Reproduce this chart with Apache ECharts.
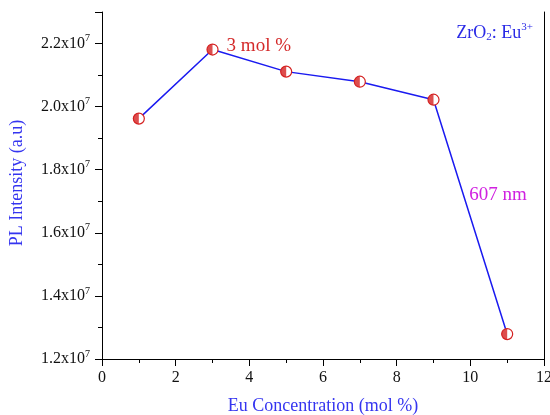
<!DOCTYPE html>
<html><head><meta charset="utf-8">
<script src="https://cdn.jsdelivr.net/npm/echarts@6/dist/echarts.min.js"></script>
<style>html,body{margin:0;padding:0;background:#fff}#c{width:550px;height:415px}</style>
</head><body><div id="c"></div>
<script>
var concentration = [1, 3, 5, 7, 9, 11];
var intensity = [1.962e7, 2.181e7, 2.111e7, 2.079e7, 2.022e7, 1.279e7];
var xTicks = [0, 2, 4, 6, 8, 10, 12];
var yTickMantissa = ['1.2', '1.4', '1.6', '1.8', '2.0', '2.2'];
var peakLabel = '3 mol %';
var wavelengthLabel = '607 nm';
var wavelengthPos = [10.75, 1.72e7];

var F = 'Liberation Serif';
var pts = concentration.map(function (x, i) { return [x, intensity[i]]; });
var chart = echarts.init(document.getElementById('c'));
chart.setOption({
  animation: false,
  title: {
    text: '{b|ZrO}{sub|2}{b|: Eu}{sup|3+}',
    right: 12, top: 17,
    textStyle: {
      fontWeight: 'normal',
      rich: {
        b: {fontFamily: F, fontSize: 18, fontWeight: 'normal', color: '#2a2ae6'},
        sub: {fontFamily: F, fontSize: 11, fontWeight: 'normal', color: '#2a2ae6', padding: [9, 0, 0, 0]},
        sup: {fontFamily: F, fontSize: 11, fontWeight: 'normal', color: '#2a2ae6', padding: [0, 0, 11, 0]}
      }
    }
  },
  grid: {left: 102, right: 6, top: 12, bottom: 56, outerBoundsMode: 'none', containLabel: false},
  xAxis: {
    type: 'value', min: 0, max: 12, interval: 2,
    name: 'Eu Concentration (mol %)', nameLocation: 'middle', nameGap: 38,
    nameTextStyle: {fontFamily: F, fontSize: 18, color: '#3535f0'},
    axisLine: {lineStyle: {color: '#000', width: 1}},
    axisTick: {show: true, inside: false, length: 7, lineStyle: {color: '#000'}},
    minorTick: {show: true, splitNumber: 2, length: 4, lineStyle: {color: '#000'}},
    splitLine: {show: false},
    axisLabel: {fontFamily: F, fontSize: 16, color: '#111', margin: 11,
      formatter: function (v) { return xTicks.indexOf(v) >= 0 ? String(v) : ''; }}
  },
  yAxis: [{
    type: 'value', min: 1.2e7, max: 2.3e7, interval: 0.2e7,
    name: 'PL Intensity (a.u)', nameLocation: 'middle', nameGap: 76,
    nameTextStyle: {fontFamily: F, fontSize: 18, color: '#3535f0', padding: [0, 0, 0, 5]},
    axisLine: {show: true, lineStyle: {color: '#000', width: 1}},
    axisTick: {show: true, inside: false, length: 7, lineStyle: {color: '#000'}},
    minorTick: {show: true, splitNumber: 2, length: 4, lineStyle: {color: '#000'}},
    splitLine: {show: false},
    axisLabel: {margin: 12,
      formatter: function (v) {
        var i = Math.round((v - 1.2e7) / 0.2e7);
        if (i < 0 || i >= yTickMantissa.length) return '';
        return '{b|' + yTickMantissa[i] + 'x10}{s|7}';
      },
      rich: {
        b: {fontFamily: F, fontSize: 16, color: '#111'},
        s: {fontFamily: F, fontSize: 10, color: '#111', padding: [0, 0, 10, 0]}
      }
    }
  }, {
    type: 'value', min: 1.2e7, max: 2.3e7, position: 'right',
    axisLine: {show: true, lineStyle: {color: '#000', width: 1}},
    axisTick: {show: false}, axisLabel: {show: false}, splitLine: {show: false}
  }],
  series: [{
    type: 'line', data: pts,
    lineStyle: {color: '#1a1af0', width: 1.5},
    symbol: 'circle', symbolSize: 11,
    itemStyle: {color: '#fff', borderColor: '#d42020', borderWidth: 1.2},
    label: {show: true, position: 'right', distance: 8, offset: [0, -4],
      fontFamily: F, fontSize: 19, color: '#d42a2a',
      formatter: function (p) { return p.dataIndex === 1 ? peakLabel : ''; }},
    markPoint: {
      symbol: 'circle', symbolSize: 0,
      data: [{coord: wavelengthPos, value: wavelengthLabel}],
      label: {show: true, position: 'inside', fontFamily: F, fontSize: 19, color: '#d020e0',
        formatter: function () { return wavelengthLabel; }}
    }
  }, {
    type: 'scatter', data: pts,
    symbol: 'path://M10,0 A10,10 0 0 0 10,20 Z',
    symbolSize: [5.5, 11], symbolOffset: [-2.75, 0],
    itemStyle: {color: '#d42020'}, z: 5
  }]
});
</script></body></html>
